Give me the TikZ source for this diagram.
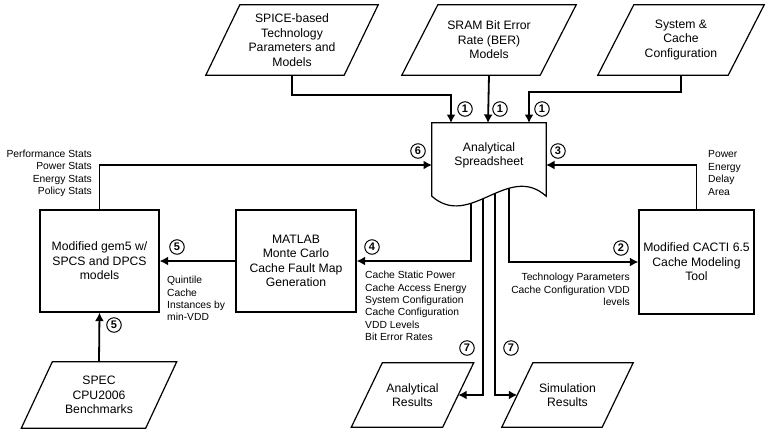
\documentclass[tikz,border=0pt]{standalone}
\usepackage{fontspec}
\setmainfont{Liberation Sans}
\usetikzlibrary{arrows.meta}
\newcommand\boxfont{\fontsize{12.2}{14.5}\selectfont}
\newcommand\labfont{\fontsize{10.3}{12.4}\selectfont}
\begin{document}
\begin{tikzpicture}[x=1pt,y=-1pt,
  outline/.style={line width=1.2pt},
  procbox/.style={draw, line width=1.2pt, inner sep=0pt, align=center, font=\boxfont},
  iobox/.style={inner sep=0pt, align=center, font=\boxfont},
  conn/.style={line width=1.8pt, -{Latex[length=8.5pt,width=9pt]}},
  num/.style={circle, draw, line width=1pt, inner sep=0pt, minimum size=14.5pt,
    font=\bfseries\fontsize{11}{11}\selectfont},
  lab/.style={inner sep=0pt, font=\labfont}]
\useasboundingbox (0,0) rectangle (766,432);
\fill[white] (0,0) rectangle (766,432);

% input data (parallelogram bodies drawn below)
\node[iobox, minimum width=138pt, minimum height=70pt] (spice) at (292,40)
  {SPICE-based\\Technology\\Parameters and\\Models};
\node[iobox, minimum width=138pt, minimum height=70pt] (sram) at (489,40)
  {SRAM Bit Error\\Rate (BER)\\Models};
\node[iobox, minimum width=130pt, minimum height=70pt] (sys) at (681,40)
  {System \&\\Cache\\Configuration};
\node[iobox, minimum width=124pt, minimum height=66pt] (spec) at (99,395)
  {SPEC\\CPU2006\\Benchmarks};
\node[iobox, minimum width=91pt, minimum height=64pt] (ares) at (412.5,395)
  {Analytical\\Results};
\node[iobox, minimum width=100pt, minimum height=64pt] (sres) at (567.5,395)
  {Simulation\\Results};
\foreach \n/\s in {spice/17, sram/18, sys/18, spec/15.5, ares/15.5, sres/15.5}
  \draw[outline] ([xshift=\s pt]\n.north west) -- ([xshift=\s pt]\n.north east)
    -- ([xshift=-\s pt]\n.south east) -- ([xshift=-\s pt]\n.south west) -- cycle;

% process boxes
\node[procbox, minimum width=119pt, minimum height=102pt] (gem5) at (99.5,261)
  {Modified gem5 w/\\SPCS and DPCS\\models};
\node[procbox, minimum width=120pt, minimum height=102pt] (matlab) at (296,261)
  {MATLAB\\Monte Carlo\\Cache Fault Map\\Generation};
\node[procbox, minimum width=115pt, minimum height=104pt] (cacti) at (696.5,262)
  {Modified CACTI 6.5\\Cache Modeling\\Tool};

% spreadsheet frame and its connection points
\node[inner sep=0pt, minimum width=114pt, minimum height=73pt] (sheet) at (489,159.5) {};
\coordinate (in1) at (451,123);
\coordinate (in2) at (488,123);
\coordinate (in3) at (529,123);
\coordinate (sheetL) at (432,165);
\coordinate (sheetR) at (546,165);
\coordinate (out4) at (471,185);
\coordinate (out7a) at (483,185);
\coordinate (out7b) at (495,185);
\coordinate (out2) at (509,185);

% outputs leaving the spreadsheet bottom (drawn under the sheet)
\draw[conn] (out4) |- (matlab.east);
\draw[conn] (out2) |- (cacti.west);
\draw[conn] (out7a) |- (ares.east);
\draw[conn] (out7b) |- (sres.west);

% document shape with wavy bottom
\draw[outline, fill=white] (sheet.south east) -- (sheet.north east) -- (sheet.north west)
  -- (sheet.south west) .. controls (470,230) and (508,162) .. (sheet.south east) -- cycle;
\node[iobox] (sheettext) at (489,155.5) {Analytical\\Spreadsheet};

% inputs into the spreadsheet
\draw[conn] (spice.south) -- (spice.south |- 0,95) -| (in1);
\draw[conn] (sram.south) -- (in2);
\draw[conn] (sys.south) -- (sys.south |- 0,92) -| (in3);
\draw[conn] (cacti.north) |- (sheetR);
\draw[conn] (gem5.north) |- (sheetL);
\draw[conn] (matlab.west) -- (gem5.east);
\draw[conn] (spec.north) -- (gem5.south);

% step numbers
\node[num] (n1a) at (465,109) {1};
\node[num] (n1b) at (500,109) {1};
\node[num] (n1c) at (542,109) {1};
\node[num] (n6) at (418,151) {6};
\node[num] (n3) at (558,151) {3};
\node[num] (n5a) at (177,247) {5};
\node[num] (n4) at (372,247) {4};
\node[num] (n2) at (621,248) {2};
\node[num] (n5b) at (114,325) {5};
\node[num] (n7a) at (467,348) {7};
\node[num] (n7b) at (511,348) {7};

% data labels
\node[lab, align=right, anchor=east] (statslab) at (92,173.5)
  {Performance Stats\\Power Stats\\Energy Stats\\Policy Stats};
\node[lab, align=left, anchor=west] (pedalab) at (708,173)
  {Power\\Energy\\Delay\\Area};
\node[lab, align=left, anchor=west] (quintlab) at (167,298.5)
  {Quintile\\Cache\\Instances by\\min-VDD};
\node[lab, align=left, anchor=west] (matlablab) at (365,306)
  {Cache Static Power\\Cache Access Energy\\System Configuration\\Cache Configuration\\VDD Levels\\Bit Error Rates};
\node[lab, align=right, anchor=east] (cactilab) at (630,289.5)
  {Technology Parameters\\Cache Configuration VDD\\levels};
\end{tikzpicture}
\end{document}
